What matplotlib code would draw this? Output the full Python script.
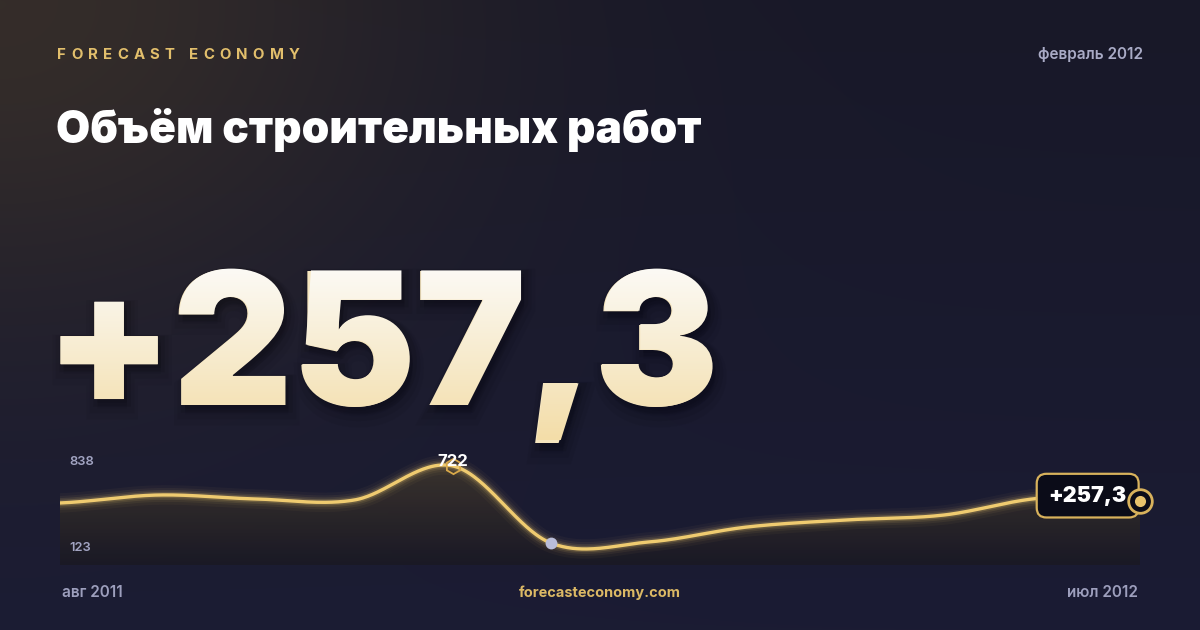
import numpy as np
import matplotlib
matplotlib.use("Agg")
import matplotlib.pyplot as plt
from matplotlib.font_manager import FontProperties
from matplotlib.textpath import TextPath, text_to_path
from matplotlib.patches import PathPatch
from matplotlib.transforms import Affine2D, blended_transform_factory

# --- data -------------------------------------------------------------
months = ["авг 2011", "сен 2011", "окт 2011", "ноя 2011", "дек 2011", "янв 2012",
          "фев 2012", "мар 2012", "апр 2012", "май 2012", "июн 2012", "июл 2012"]
values = [452, 510, 481, 474, 722, 160, 168, 277, 328, 364, 488, 470]
y_top = 838
y_low_label = 123
peak_label = "722"
marked_idx = 5
headline = "+257,3"
title = "Объём строительных работ"
brand = "FORECAST ECONOMY"
date_label = "февраль 2012"
site = "forecasteconomy.com"

W, H = 1200, 630
GOLD = "#efcb70"
FONT = "Inter"


def fprop(size_px, weight):
    return FontProperties(family=FONT, weight=weight, size=size_px * 0.72)


def spaced_text(ax, x, y, s, size_px, tracking, color, weight="bold"):
    # letter-spaced caps for the brand line
    fp = fprop(size_px, weight)
    base = text_to_path.get_text_width_height_descent("HH", fp, ismath=False)[0]
    for ch in s:
        ax.text(x, y, ch, fontproperties=fp, color=color, ha="left", va="baseline", zorder=5)
        w = text_to_path.get_text_width_height_descent("H" + ch + "H", fp, ismath=False)[0] - base
        x += w * 100 / 72 + tracking


def catmull_rom(y, n=60):
    p = np.concatenate([[y[0]], y, [y[-1]]]).astype(float)
    xs, ys = [], []
    for i in range(len(y) - 1):
        p0, p1, p2, p3 = p[i], p[i + 1], p[i + 2], p[i + 3]
        t = np.linspace(0, 1, n, endpoint=False)
        m1, m2 = (p2 - p0) / 2, (p3 - p1) / 2
        h00 = 2 * t**3 - 3 * t**2 + 1
        h10 = t**3 - 2 * t**2 + t
        h01 = -2 * t**3 + 3 * t**2
        h11 = t**3 - t**2
        xs.append(i + t)
        ys.append(h00 * p1 + h10 * m1 + h01 * p2 + h11 * m2)
    xs.append([len(y) - 1])
    ys.append([y[-1]])
    return np.concatenate(xs), np.concatenate(ys)


fig = plt.figure(figsize=(12, 6.3), dpi=100)
bg = fig.add_axes([0, 0, 1, 1])
bg.set_xlim(0, W)
bg.set_ylim(H, 0)
bg.axis("off")

# background: navy with warm glow in the top-left corner
yy, xx = np.mgrid[0:H, 0:W]
top = np.array([24, 24, 40]) / 255
bottom = np.array([27, 28, 52]) / 255
f = (yy / H)[..., None]
img = top * (1 - f) + bottom * f
d = np.sqrt(xx ** 2 + (yy * 1.3) ** 2)
glow = np.exp(-(d / 430) ** 2)[..., None] * 0.75
warm = np.array([62, 52, 42]) / 255
img = img * (1 - glow) + warm * glow
bg.imshow(img, extent=(0, W, H, 0), aspect="auto", zorder=0)

# header
spaced_text(bg, 57, 59, brand, 15, 5.2, "#e2bf6c")
bg.text(1143, 59, date_label, fontproperties=fprop(15.3, "semibold"), color="#a9abc6",
        ha="right", va="baseline")
bg.text(56, 143, title, fontproperties=fprop(44.2, "black"), color="#ffffff", ha="left", va="baseline")

# big headline number, white-to-cream gradient on top of the real text
size_big = 185
x_big, base_big = 45, 405
fp_big = fprop(size_big, "black")
bg.text(x_big, base_big, headline, fontproperties=fp_big, color="#f6e6bf", ha="left",
        va="baseline", zorder=4)
tp = TextPath((0, 0), headline, size=size_big, prop=fp_big)
big_path = Affine2D().scale(1, -1).translate(x_big, base_big).transform_path(tp)
for k, a in [(16, 0.045), (11, 0.06), (6, 0.08)]:
    sh = Affine2D().translate(3, k * 0.6).transform_path(big_path)
    bg.add_patch(PathPatch(sh, fc="black", ec="black", lw=k, alpha=a, zorder=3))
clip = PathPatch(big_path, fc="none", ec="none", zorder=4.5)
bg.add_patch(clip)
g = np.linspace(0, 1, 200)[:, None]
c_top = np.array([252, 251, 248]) / 255
c_bot = np.array([243, 221, 168]) / 255
grad = np.ones((200, 2, 4))
grad[..., :3] = (c_top * (1 - g) + c_bot * g)[:, None, :]
gim = bg.imshow(grad, extent=(40, 760, 440, 262), aspect="auto", zorder=4.6)
gim.set_clip_path(clip)

# footer
foot = fprop(15.3, "semibold")
bg.text(62, 597, months[0], fontproperties=foot, color="#9d9fbd", ha="left", va="baseline")
bg.text(1138, 597, months[-1], fontproperties=foot, color="#9d9fbd", ha="right", va="baseline")
bg.text(600, 597, site, fontproperties=fprop(14.5, "bold"), color="#dcb965", ha="center", va="baseline")

# sparkline
sp = fig.add_axes([60 / W, (H - 565) / H, 1080 / W, 115 / H])
sp.set_xlim(0, len(values) - 1)
sp.set_ylim(0, y_top)
sp.axis("off")
sp.patch.set_alpha(0)

cx, cy = catmull_rom(np.array(values))
poly = sp.fill_between(cx, cy, 0, color="none", lw=0)
g2 = np.linspace(0, 1, 200)[:, None]
f_top = np.array([66, 57, 47]) / 255
f_bot = np.array([26, 25, 36]) / 255
fill = np.ones((200, 2, 4))
fill[..., :3] = (f_top * (1 - g2) + f_bot * g2)[:, None, :]
fill[..., 3] = 0.92
fim = sp.imshow(fill, extent=(0, len(values) - 1, 0, y_top), aspect="auto", origin="upper", zorder=1)
fim.set_clip_path(poly.get_paths()[0], sp.transData)

# range labels inside the sparkline
lab = fprop(13, "semibold")
ytrans = blended_transform_factory(sp.transAxes, sp.transData)
sp.annotate(str(y_top), (0, y_top), xycoords=ytrans, xytext=(7, -4), textcoords="offset points",
            fontproperties=lab, color="#a2a4c2", ha="left", va="top", zorder=9, annotation_clip=False)
sp.annotate(str(y_low_label), (0, y_low_label), xycoords=ytrans, xytext=(7, 0), textcoords="offset points",
            fontproperties=lab, color="#a2a4c2", ha="left", va="center", zorder=9, annotation_clip=False)

for lw, a in [(14, 0.04), (10, 0.06), (7, 0.1), (4.5, 0.18)]:
    sp.plot(cx, cy, color=GOLD, lw=lw, alpha=a, solid_capstyle="round", zorder=2)
sp.plot(cx, cy, color=GOLD, lw=2.4, solid_capstyle="round", zorder=3)

ipk = int(np.argmax(values))
sp.plot(ipk, values[ipk], marker="h", ms=11, mfc="none", mec="#d9a94a", mew=1.3, zorder=4, clip_on=False)
sp.annotate(peak_label, (ipk, values[ipk]), xytext=(0, 3.5), textcoords="offset points",
            ha="center", va="center", color="white", fontsize=12, fontweight="bold", family=FONT, zorder=5)
sp.plot(marked_idx, values[marked_idx], marker="o", ms=8.5, color="#b9bdd9", mec="none", zorder=4)

iend = len(values) - 1
sp.annotate(headline, (iend, values[iend]), xytext=(-9.5, 3.5), textcoords="offset points",
            ha="right", va="center", color="white", fontsize=15.5, fontweight="black", family=FONT,
            bbox=dict(boxstyle="round,pad=0.55,rounding_size=0.45", fc="#0b0c18", ec="#d8b25c", lw=1.6),
            zorder=6, annotation_clip=False)
sp.plot(iend, values[iend], marker="o", ms=17, mfc="#0b0c18", mec="#d8b25c", mew=2, zorder=7, clip_on=False)
sp.plot(iend, values[iend], marker="o", ms=8, color="#e8c36c", mec="none", zorder=8, clip_on=False)

fig.savefig("out.png", dpi=100, facecolor="#181a2c")
